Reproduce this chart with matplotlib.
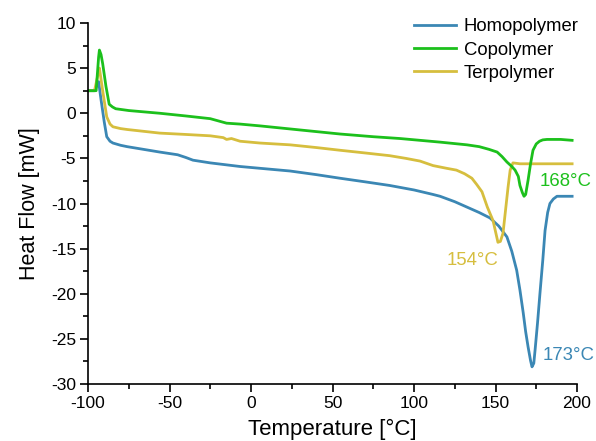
import matplotlib.pyplot as plt
from matplotlib.ticker import MultipleLocator

plt.rcParams["font.family"] = ["Liberation Sans", "DejaVu Sans"]
plt.rcParams["axes.unicode_minus"] = False

# Temperature [°C] / heat flow [mW]
homo_t = [-100, -96, -93.5, -92, -90, -88.5, -86.5, -84.7, -80, -76, -66, -56, -45, -40, -35.6,
          -25, -6.7, 5.5, 24, 40, 54.6, 70, 85, 100, 111.7, 116, 125, 132.5, 140, 146.6,
          152, 157, 160, 163, 165, 167, 168.5, 170, 171.5, 172.4, 173.5, 174.3, 175.8,
          177.3, 179, 180.4, 182, 183.4, 185.5, 187.7, 197]
homo_y = [2.5, 2.5, 3.5, 1.5, -1.0, -2.6, -3.1, -3.3, -3.55, -3.7, -4.0, -4.3, -4.6, -4.9, -5.2,
          -5.5, -5.9, -6.1, -6.4, -6.8, -7.2, -7.6, -8.0, -8.5, -9.0, -9.2, -9.8, -10.4, -11.0,
          -11.6, -12.5, -13.7, -15.3, -17.4, -19.6, -22.1, -24.2, -25.9, -27.4, -28.1, -27.7,
          -26.2, -23.2, -19.9, -16.3, -13.0, -11.0, -10.0, -9.5, -9.2, -9.2]

co_t = [-100, -95, -93.5, -93, -92, -91, -89, -87, -85, -83, -75, -56, -40, -25, -15, -6.7,
        5.5, 30, 54.6, 75, 91.4, 116, 132.5, 140, 146, 151, 154, 157, 160, 162, 164, 165,
        166.5, 167.5, 168.5, 170, 171.5, 173, 175, 177, 179, 181.6, 190, 197]
co_y = [2.5, 2.5, 6.2, 7.0, 6.5, 5.5, 3.0, 1.0, 0.7, 0.5, 0.3, 0.0, -0.3, -0.6, -1.1, -1.2,
        -1.4, -1.85, -2.3, -2.6, -2.8, -3.2, -3.5, -3.7, -4.0, -4.3, -4.8, -5.4, -5.9, -6.3,
        -7.0, -8.0, -8.8, -9.2, -9.0, -7.4, -5.6, -4.1, -3.4, -3.1, -2.95, -2.9, -2.9, -3.0]

ter_t = [-100, -96, -93.5, -93, -91, -88.5, -86.5, -84.7, -80, -76, -66, -56, -40, -25, -17,
         -15, -12, -6.7, 5.5, 24, 40, 54.6, 70, 85, 95, 103.7, 111.7, 120, 126, 131, 135.5,
         138.5, 141.7, 145, 148.5, 151.5, 153, 154.6, 156, 157.7, 159, 160.7, 165, 180, 197]
ter_y = [2.5, 2.5, 4.6, 5.0, 2.5, -0.4, -1.2, -1.5, -1.7, -1.8, -2.0, -2.2, -2.35, -2.5, -2.7,
         -2.9, -2.8, -3.1, -3.3, -3.5, -3.8, -4.1, -4.4, -4.7, -5.0, -5.3, -5.8, -6.1, -6.3,
         -6.7, -7.2, -7.9, -8.7, -10.4, -11.9, -14.3, -14.2, -13.3, -11.0, -8.2, -6.3, -5.5,
         -5.6, -5.6, -5.6]

labels = ["Homopolymer", "Copolymer", "Terpolymer"]
colors = ["#3b87b4", "#1cc01c", "#d6be3e"]

fig = plt.figure(figsize=(5.96, 4.41), dpi=100)
ax = fig.add_axes([88 / 596, 1 - 384 / 441, 489 / 596, 361 / 441])

ax.plot(homo_t, homo_y, color=colors[0], lw=2.0, label=labels[0])
ax.plot(ter_t, ter_y, color=colors[2], lw=2.0, label=labels[2])
ax.plot(co_t, co_y, color=colors[1], lw=2.0, label=labels[1])

# peak annotations
ax.text(179, -26.8, "173°C", color=colors[0], fontsize=13.4, va="center")
ax.text(120, -16.3, "154°C", color=colors[2], fontsize=13.4, va="center")
ax.text(177, -7.6, "168°C", color=colors[1], fontsize=13.4, va="center")

ax.set_xlim(-100, 200)
ax.set_ylim(-30, 10)
ax.xaxis.set_major_locator(MultipleLocator(50))
ax.xaxis.set_minor_locator(MultipleLocator(25))
ax.yaxis.set_major_locator(MultipleLocator(5))
ax.yaxis.set_minor_locator(MultipleLocator(2.5))
ax.tick_params(which="major", length=6, width=1.2, labelsize=12.5, pad=2.5)
ax.tick_params(which="minor", length=3.5, width=1.2)
ax.spines["top"].set_visible(False)
ax.spines["right"].set_visible(False)
ax.spines["left"].set_linewidth(1.2)
ax.spines["bottom"].set_linewidth(1.2)

ax.set_xlabel("Temperature [°C]", fontsize=16, labelpad=6)
ax.set_ylabel("Heat Flow [mW]", fontsize=15.5, labelpad=8)

handles, labs = ax.get_legend_handles_labels()
order = [labs.index(l) for l in labels]
ax.legend([handles[i] for i in order], labels, loc="upper right", frameon=False,
          fontsize=13.3, handlelength=2.3, handletextpad=0.4, labelspacing=0.33,
          borderaxespad=0, bbox_to_anchor=(1.018, 1.033))

fig.savefig("out.png", dpi=100)
